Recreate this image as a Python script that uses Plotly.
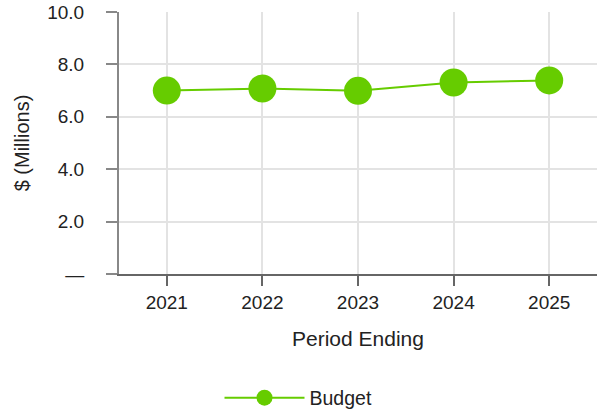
import plotly.graph_objects as go

periods = ["2021", "2022", "2023", "2024", "2025"]
budget = [7.0, 7.08, 6.99, 7.31, 7.39]

y_tickvals = [0, 2, 4, 6, 8, 10]
y_ticktext = ["—", "2.0", "4.0", "6.0", "8.0", "10.0"]

FONT = "Liberation Sans, Arial, Helvetica, sans-serif"
GREEN = "#66cc00"

fig = go.Figure()
fig.add_trace(go.Scatter(
    x=periods, y=budget, mode="lines+markers", name="Budget",
    line=dict(color=GREEN, width=2),
    marker=dict(color=GREEN, size=28),
))

fig.update_layout(
    width=597, height=414,
    margin=dict(l=119, r=0, t=12, b=140),
    paper_bgcolor="white", plot_bgcolor="white",
    font=dict(family=FONT, size=19, color="#222222"),
    showlegend=True,
    legend=dict(orientation="h", xref="container", yref="container",
                x=0.5, xanchor="center", y=1 - 398 / 414, yanchor="middle",
                itemwidth=80, font=dict(size=19.5, color="#222222")),
    xaxis=dict(
        type="category", range=[-0.5, 4.5],
        showline=True, linecolor="#666666", linewidth=2,
        ticks="outside", ticklen=10, tickwidth=2, tickcolor="#666666",
        showgrid=True, gridcolor="#e3e3e3", gridwidth=1.5,
        tickfont=dict(size=19), zeroline=False,
    ),
    yaxis=dict(
        range=[0, 10], tickvals=y_tickvals, ticktext=y_ticktext,
        showline=True, linecolor="#888888", linewidth=2,
        ticks="outside", ticklen=11, tickwidth=2, tickcolor="#888888",
        ticklabelstandoff=18,
        showgrid=True, gridcolor="#e3e3e3", gridwidth=1.5,
        zeroline=False, tickfont=dict(size=19),
        title=dict(text="$ (Millions)", font=dict(size=20), standoff=12),
    ),
)

fig.add_annotation(
    text="Period Ending", xref="paper", yref="paper",
    x=0.5, y=-(338 - 274) / 262,
    xanchor="center", yanchor="middle", showarrow=False,
    font=dict(size=21, color="#222222"),
)

fig.write_html("out.html")
